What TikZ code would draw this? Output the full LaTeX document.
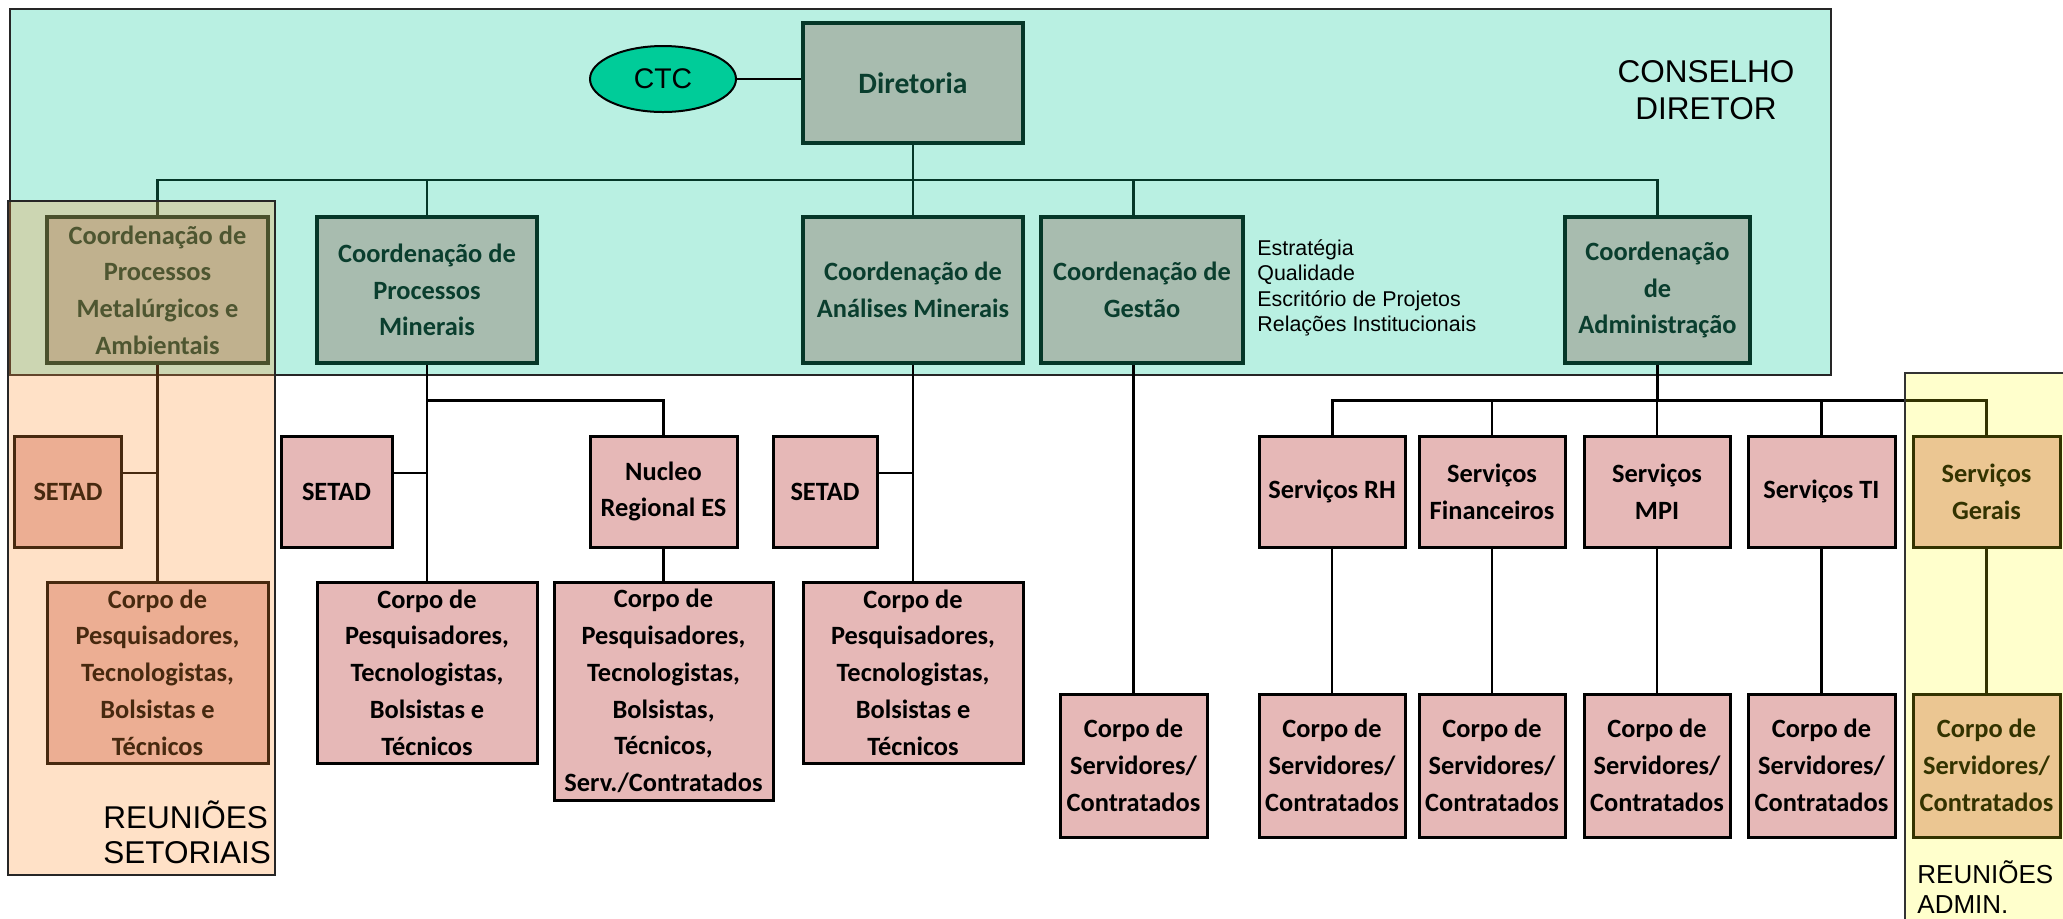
\documentclass[tikz,border=0pt]{standalone}
\usepackage{fontspec}
\setmainfont{Carlito}
\newfontfamily\arialfont{Liberation Sans}
\usetikzlibrary{shapes.geometric}

\definecolor{cyanbg}{RGB}{185,240,226}
\definecolor{coordfill}{RGB}{168,188,175}
\definecolor{coordline}{RGB}{5,55,40}
\definecolor{coordtext}{RGB}{10,62,46}
\definecolor{pinkfill}{RGB}{230,184,183}
\definecolor{ctcfill}{RGB}{0,204,153}
\definecolor{orangetint}{RGB}{255,150,57}
\definecolor{yellowtint}{RGB}{255,255,0}

\pgfdeclarelayer{back}
\pgfdeclarelayer{links}
\pgfdeclarelayer{front}
\pgfsetlayers{back,links,main,front}

\tikzset{
  boxbase/.style={rectangle, inner sep=0pt, align=center,
    font=\bfseries\fontsize{13.2}{18.35}\selectfont},
  coordbox/.style={boxbase, draw=coordline, line width=1.7pt, fill=coordfill, text=coordtext},
  unitbox/.style={boxbase, draw=black, line width=1.5pt, fill=pinkfill, text=black},
  councilarea/.style={rectangle, inner sep=0pt, fill=cyanbg, draw=black!85, line width=1pt},
  sectorarea/.style={rectangle, inner sep=0pt, fill=orangetint, fill opacity=0.28,
    draw=black!85, line width=1pt},
  adminarea/.style={rectangle, inner sep=0pt, fill=yellowtint, fill opacity=0.2,
    draw=black!80, line width=0.8pt},
  greenlink/.style={draw=coordline, line width=1.35pt},
  droplink/.style={draw=black, line width=1.2pt},
  buslink/.style={draw=black, line width=1.5pt},
  ctclink/.style={draw=black, line width=0.75pt},
  biglabel/.style={inner sep=0pt, font=\arialfont\fontsize{15.75}{18.4}\selectfont},
}

% box from its corners (x1,y1) to (x2,y2), given in pixel units
\newcommand{\orgnode}[7]{%
  \node[#2, minimum width={(#5-#3)*0.5pt}, minimum height={(#6-#4)*0.5pt}]
    (#1) at ({(#3+#5)/2},{(#4+#6)/2}) {#7};}

\begin{document}
\begin{tikzpicture}[x=0.5pt,y=-0.5pt]
\clip (0,0) rectangle (2063,918);

% page background and council area
\begin{pgfonlayer}{back}
\fill[white] (0,0) rectangle (2063,918);
\orgnode{council}{councilarea}{10}{8.5}{1830.5}{374.5}{}
\end{pgfonlayer}

% multi-line labels: anchor=base sits on the last line
\node[biglabel, align=center, anchor=base] (councilname) at (1706,119) {CONSELHO\\DIRETOR};

% top management
\node[ellipse, draw=black, line width=1pt, fill=ctcfill, minimum width=73pt,
  minimum height=33pt, inner sep=0pt,
  font=\arialfont\fontsize{14.2}{17}\selectfont] (ctc) at (663,79) {CTC};
\orgnode{dir}{coordbox, font=\bfseries\fontsize{14.8}{18}\selectfont}{803}{23}{1023}{143}{Diretoria}

% coordinations
\orgnode{cpma}{coordbox}{47}{217}{268}{363}{Coordenação de\\Processos\\Metalúrgicos e\\Ambientais}
\orgnode{cpm}{coordbox}{317}{217}{537}{363}{Coordenação de\\Processos\\Minerais}
\orgnode{cam}{coordbox}{803}{217}{1023}{363}{Coordenação de\\Análises Minerais}
\orgnode{cg}{coordbox}{1041}{217}{1243}{363}{Coordenação de\\Gestão}
\orgnode{ca}{coordbox}{1565}{217}{1750}{363}{Coordenação\\de\\Administração}

\node[anchor=base west, align=left, inner sep=0pt,
  font=\arialfont\fontsize{10.7}{12.75}\selectfont] (cgnotes) at (1257,331.5)
  {Estratégia\\Qualidade\\Escritório de Projetos\\Relações Institucionais};

% sections
\orgnode{setadl}{unitbox}{14.5}{436}{121.5}{547}{SETAD}
\orgnode{setadm}{unitbox}{281}{436}{392}{547}{SETAD}
\orgnode{nucleo}{unitbox}{590}{436}{737}{547}{Nucleo\\Regional ES}
\orgnode{setada}{unitbox}{773}{436}{877}{547}{SETAD}

\orgnode{corpol}{unitbox}{47}{582}{268}{763}{Corpo de\\Pesquisadores,\\Tecnologistas,\\Bolsistas e\\Técnicos}
\orgnode{corpom}{unitbox}{317}{582}{537}{763}{Corpo de\\Pesquisadores,\\Tecnologistas,\\Bolsistas e\\Técnicos}
\orgnode{corpon}{unitbox}{554}{582}{773}{800}{Corpo de\\Pesquisadores,\\Tecnologistas,\\Bolsistas,\\Técnicos,\\Serv./Contratados}
\orgnode{corpoa}{unitbox}{803}{582}{1023}{763}{Corpo de\\Pesquisadores,\\Tecnologistas,\\Bolsistas e\\Técnicos}
\orgnode{corpog}{unitbox}{1060}{694}{1207}{837}{Corpo de\\Servidores/\\Contratados}

% administration services
\orgnode{srh}{unitbox}{1259}{436}{1405}{547}{Serviços RH}
\orgnode{sfin}{unitbox}{1419}{436}{1565}{547}{Serviços\\Financeiros}
\orgnode{smpi}{unitbox}{1584}{436}{1730}{547}{Serviços\\MPI}
\orgnode{sti}{unitbox}{1748}{436}{1895}{547}{Serviços TI}
\orgnode{sger}{unitbox}{1913}{436}{2060}{547}{Serviços\\Gerais}
\orgnode{crh}{unitbox}{1259}{694}{1405}{837}{Corpo de\\Servidores/\\Contratados}
\orgnode{cfin}{unitbox}{1419}{694}{1565}{837}{Corpo de\\Servidores/\\Contratados}
\orgnode{cmpi}{unitbox}{1584}{694}{1730}{837}{Corpo de\\Servidores/\\Contratados}
\orgnode{cti}{unitbox}{1748}{694}{1895}{837}{Corpo de\\Servidores/\\Contratados}
\orgnode{cger}{unitbox}{1913}{694}{2060}{837}{Corpo de\\Servidores/\\Contratados}

% connectors
\begin{pgfonlayer}{links}
\coordinate (bar1) at (0,180);
\coordinate (bar2) at (0,400);
\draw[ctclink] (ctc.east) -- (ctc.east -| dir.west);
\draw[greenlink] (dir.south) -- (cam.north);
\draw[greenlink] (cpma.north) -- (cpma.north |- bar1) -- (ca.north |- bar1) -- (ca.north);
\draw[greenlink] (cpm.north) -- (cpm.north |- bar1);
\draw[greenlink] (corpog.north |- bar1) -- (corpog.north |- cg.north);
\draw[droplink] (corpog.north |- cg.south) -- (corpog.north);

\draw[droplink] (cpma.south) -- (corpol.north);
\draw[droplink] ([yshift=9.4pt]setadl.east) -- ([yshift=9.4pt]setadl.east -| cpma.south);

\draw[droplink] (cpm.south) -- (corpom.north);
\draw[buslink] (cpm.south |- bar2) -- (nucleo.north |- bar2) -- (nucleo.north);
\draw[droplink] (nucleo.south) -- (corpon.north);
\draw[droplink] ([yshift=9.4pt]setadm.east) -- ([yshift=9.4pt]setadm.east -| cpm.south);

\draw[droplink] (cam.south) -- (corpoa.north);
\draw[droplink] ([yshift=9.4pt]setada.east) -- ([yshift=9.4pt]setada.east -| cam.south);

\draw[droplink] (ca.south) -- (ca.south |- bar2);
\draw[buslink] (srh.north) -- (srh.north |- bar2) -- (sger.north |- bar2) -- (sger.north);
\foreach \s in {fin,mpi,ti} {\draw[droplink] (s\s.north |- bar2) -- (s\s.north);}
\foreach \s in {rh,fin,mpi,ti,ger} {\draw[droplink] (s\s.south) -- (c\s.north);}
\end{pgfonlayer}

% meeting groups
\begin{pgfonlayer}{front}
\orgnode{sectormeet}{sectorarea}{8}{201}{275}{875}{}
\orgnode{adminmeet}{adminarea}{1905}{373}{2090}{940}{}
\node[biglabel, align=left, anchor=base west,
  font=\arialfont\fontsize{15.75}{17.5}\selectfont] (sectorname) at (103,863) {REUNIÕES\\SETORIAIS};
\node[biglabel, align=left, anchor=base west,
  font=\arialfont\fontsize{13}{15}\selectfont] (adminname) at (1917,913) {REUNIÕES\\ADMIN.};
\end{pgfonlayer}
\end{tikzpicture}
\end{document}
